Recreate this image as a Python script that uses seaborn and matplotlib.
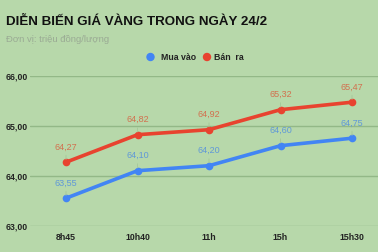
import matplotlib
matplotlib.use("Agg")
import matplotlib.pyplot as plt
import seaborn as sns
import pandas as pd

times = ["8h45", "10h40", "11h", "15h", "15h30"]
mua_vao = [63.55, 64.10, 64.20, 64.60, 64.75]
ban_ra = [64.27, 64.82, 64.92, 65.32, 65.47]
series_names = ["Mua vào", "Bán  ra"]
yticks = [63, 64, 65, 66]

BG = "#b7d8aa"
BLUE = "#4285f4"
RED = "#e8432f"
BLUE_LBL = "#5f98d8"
RED_LBL = "#d2704e"

sns.set_theme(style="white")
plt.rcParams["font.family"] = ["Liberation Sans", "DejaVu Sans"]

df = pd.DataFrame({
    "time": times * 2,
    "value": mua_vao + ban_ra,
    "series": [series_names[0]] * len(times) + [series_names[1]] * len(times),
})

W, H = 378, 252
fig = plt.figure(figsize=(W / 100, H / 100), dpi=100, facecolor=BG)
ax = fig.add_axes([30 / W, (H - 225.7) / H, (W - 30) / W, 150 / H])
ax.set_facecolor(BG)

sns.lineplot(data=df, x="time", y="value", hue="series",
             palette=[BLUE, RED], marker="o", markersize=5.5,
             markeredgewidth=0, linewidth=2.6, legend=False, ax=ax, sort=False)

ax.set_ylim(63, 66)
px_per = 71.5
x0 = -36 / px_per
ax.set_xlim(x0, x0 + (W - 30) / px_per)
ax.grid(axis="y", color="#93b887", linewidth=1.0)
ax.grid(axis="x", visible=False)
for s in ax.spines.values():
    s.set_visible(False)
ax.tick_params(length=0)
ax.set_xlabel("")
ax.set_ylabel("")
ax.set_yticks(yticks)
ax.set_yticklabels([f"{v:.2f}".replace(".", ",") for v in yticks],
                   fontsize=6.3, fontweight="bold", color="#222222")
ax.set_xticks(range(len(times)))
ax.set_xticklabels(times, fontsize=6.3, fontweight="bold", color="#222222")
for lbl in ax.get_yticklabels():
    lbl.set_horizontalalignment("left")
ax.tick_params(axis="y", pad=24 * 72 / 100)
ax.tick_params(axis="x", pad=5)
ax.set_axisbelow(True)

for vals, col in ((mua_vao, BLUE_LBL), (ban_ra, RED_LBL)):
    for i, v in enumerate(vals):
        ax.annotate(f"{v:.2f}".replace(".", ","), (i, v), xytext=(0, 7.5),
                    textcoords="offset points", ha="center", va="bottom",
                    fontsize=6.5, color=col)
        ax.annotate("", (i, v), xytext=(0, 7), textcoords="offset points",
                    arrowprops=dict(arrowstyle="-", color="#a6c799", lw=0.6))

fig.text(6 / W, 1 - 21.5 / H, "DIỄN BIẾN GIÁ VÀNG TRONG NGÀY 24/2",
         fontsize=9.6, fontweight="bold", color="#111111", va="center", ha="left")
fig.text(6 / W, 1 - 40 / H, "Đơn vị: triệu đồng/lượng",
         fontsize=6.8, color="#9aaa94", va="center", ha="left")

# legend
ly = 1 - 57 / H
fig.patches.append(matplotlib.patches.Ellipse((150.5 / W, ly), 7 / W, 7 / H,
                   transform=fig.transFigure, color=BLUE))
fig.text(161 / W, ly, series_names[0], fontsize=6.3, fontweight="bold",
         color="#222222", va="center", ha="left")
fig.patches.append(matplotlib.patches.Ellipse((207 / W, ly), 7 / W, 7 / H,
                   transform=fig.transFigure, color=RED))
fig.text(214 / W, ly, series_names[1], fontsize=6.3, fontweight="bold",
         color="#222222", va="center", ha="left")

fig.savefig("out.png", dpi=100, facecolor=BG)
